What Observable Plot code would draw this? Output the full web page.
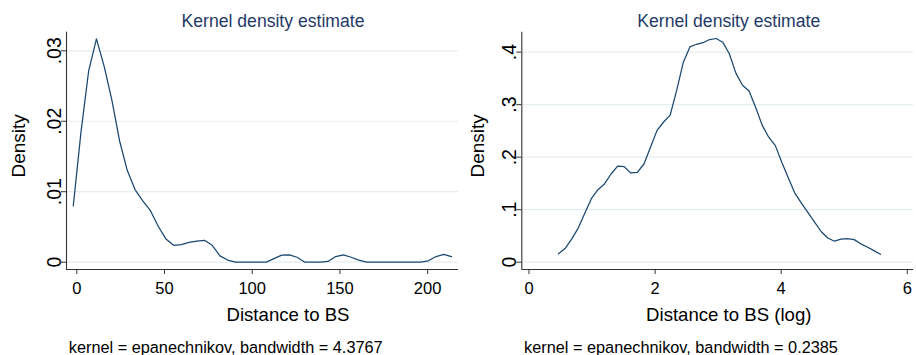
<!DOCTYPE html>
<html><head><meta charset="utf-8">
<script src="https://cdn.jsdelivr.net/npm/d3@7"></script>
<script src="https://cdn.jsdelivr.net/npm/@observablehq/plot@0.6"></script>
<style>
body{margin:0;background:#fff;}
#wrap{display:flex;width:916px;height:355px;overflow:hidden;}
svg{display:block;overflow:visible}
</style></head><body><div id="wrap"></div>
<script>
// ---- data ----
const distX = [-2.0, 2.4, 6.8, 11.2, 15.6, 20.0, 24.4, 28.8, 33.2, 37.6, 42.0, 46.4, 50.8, 55.2, 59.6, 64.0, 68.4, 72.8, 77.2, 81.6, 86.0, 90.4, 94.8, 99.2, 103.6, 108.0, 112.4, 116.8, 121.2, 125.6, 130.0, 134.4, 138.8, 143.2, 147.6, 152.0, 156.4, 160.8, 165.2, 169.6, 174.0, 178.4, 182.8, 187.2, 191.6, 196.0, 200.4, 204.8, 209.2, 213.6];
const distDensity = [0.0080, 0.0185, 0.0272, 0.0317, 0.0278, 0.0230, 0.0172, 0.0130, 0.0103, 0.0087, 0.0073, 0.0051, 0.0033, 0.0024, 0.0025, 0.0028, 0.0030, 0.0031, 0.0024, 0.0009, 0.0003, 0, 0, 0, 0, 0, 0.0005, 0.0010, 0.00104, 0.0007, 0, 0, 0, 0.0001, 0.0008, 0.00104, 0.0007, 0.0003, 0, 0, 0, 0, 0, 0, 0, 0, 0.0002, 0.0008, 0.0011, 0.0008];
const logX = [0.468, 0.572, 0.676, 0.781, 0.885, 0.989, 1.093, 1.197, 1.302, 1.406, 1.510, 1.614, 1.718, 1.823, 1.927, 2.031, 2.135, 2.239, 2.344, 2.448, 2.552, 2.656, 2.760, 2.865, 2.969, 3.073, 3.177, 3.281, 3.386, 3.490, 3.594, 3.698, 3.802, 3.907, 4.011, 4.115, 4.219, 4.323, 4.428, 4.532, 4.636, 4.740, 4.844, 4.949, 5.053, 5.157, 5.261, 5.365, 5.470, 5.574];
const logDensity = [0.016, 0.026, 0.044, 0.065, 0.093, 0.121, 0.138, 0.149, 0.168, 0.183, 0.182, 0.170, 0.171, 0.187, 0.219, 0.251, 0.267, 0.280, 0.328, 0.381, 0.410, 0.415, 0.418, 0.424, 0.426, 0.419, 0.397, 0.360, 0.337, 0.326, 0.295, 0.261, 0.238, 0.222, 0.190, 0.160, 0.131, 0.112, 0.094, 0.076, 0.058, 0.046, 0.040, 0.044, 0.045, 0.043, 0.035, 0.029, 0.022, 0.015];

const distXTicks = [0, 50, 100, 150, 200];
const distYTicks = [0, 0.01, 0.02, 0.03];
const distYLabels = ["0", ".01", ".02", ".03"];
const logXTicks = [0, 2, 4, 6];
const logYTicks = [0, 0.1, 0.2, 0.3, 0.4];
const logYLabels = ["0", ".1", ".2", ".3", ".4"];

const titleText = "Kernel density estimate";
const yTitle = "Density";
const distXTitle = "Distance to BS";
const logXTitle = "Distance to BS (log)";
const distNote = "kernel = epanechnikov, bandwidth = 4.3767";
const logNote = "kernel = epanechnikov, bandwidth = 0.2385";

// ---- styling ----
const FONT = "'Liberation Sans', Arial, Helvetica, sans-serif";
const LINE = "#1a476f";
const TITLE = "#1f3a68";
const GRID = "#e4edf0";
const AXIS = "#333";

function panel(o) {
  const data = o.xs.map((x, i) => ({x, y: o.ys[i]}));
  return Plot.plot({
    width: 458, height: 355,
    marginLeft: o.ml, marginRight: o.mr, marginTop: 31.7, marginBottom: 86,
    style: {fontFamily: FONT, fontSize: "16px", color: "#000", background: "white", overflow: "visible"},
    x: {domain: o.xDomain},
    y: {domain: o.yDomain},
    marks: [
      Plot.ruleY(o.yTicks, {stroke: GRID, strokeWidth: 1.2}),
      Plot.line(data, {x: "x", y: "y", stroke: LINE, strokeWidth: 1.25}),
      Plot.ruleX([o.xDomain[0]], {stroke: AXIS, strokeWidth: 1.1}),
      Plot.ruleY([o.yDomain[0]], {stroke: AXIS, strokeWidth: 1.1}),
      Plot.axisX({ticks: o.xTicks, tickSize: 5, tickPadding: 8, label: null, fontSize: 16.5, stroke: AXIS, tickFormat: d => String(d)}),
      Plot.axisY({ticks: o.yTicks, tickSize: 5, label: null, stroke: AXIS, tickFormat: () => ""}),
      Plot.text(o.yTicks, {x: o.xDomain[0], y: d => d, text: (d, i) => o.yLabels[i], rotate: -90, dx: -6, lineAnchor: "bottom", textAnchor: "middle", fontSize: 19.5, fill: "#000"}),
      Plot.text([yTitle], {frameAnchor: "left", dx: o.yTitleX - o.ml, dy: -5, rotate: -90, lineAnchor: "bottom", textAnchor: "middle", fontSize: 19, fill: "#000"}),
      Plot.text([titleText], {frameAnchor: "top", dx: o.titleDx, dy: -5.7, lineAnchor: "bottom", textAnchor: "middle", fontSize: 17.6, fill: TITLE}),
      Plot.text([o.xTitle], {frameAnchor: "bottom", dx: o.xTitleDx, dy: 51.7, lineAnchor: "bottom", textAnchor: "middle", fontSize: 18.6, fill: "#000"}),
      Plot.text([o.note], {frameAnchor: "bottom-left", dx: 2.3, dy: 83, lineAnchor: "bottom", textAnchor: "start", fontSize: 16.3, fill: "#000"})
    ]
  });
}

const wrap = document.getElementById("wrap");
wrap.append(panel({
  xs: distX, ys: distDensity, ml: 66, mr: 0,
  xDomain: [-5.87, 217.6], yDomain: [-0.00104, 0.03264],
  xTicks: distXTicks, yTicks: distYTicks, yLabels: distYLabels,
  yTitleX: 24.5, titleDx: 10.5, xTitleDx: 25.5, xTitle: distXTitle, note: distNote
}));
wrap.append(panel({
  xs: logX, ys: logDensity, ml: 63.3, mr: 3,
  xDomain: [-0.114, 6.098], yDomain: [-0.0139, 0.438],
  xTicks: logXTicks, yTicks: logYTicks, yLabels: logYLabels,
  yTitleX: 25, titleDx: 11.1, xTitleDx: 11.1, xTitle: logXTitle, note: logNote
}));
</script>
</body></html>
